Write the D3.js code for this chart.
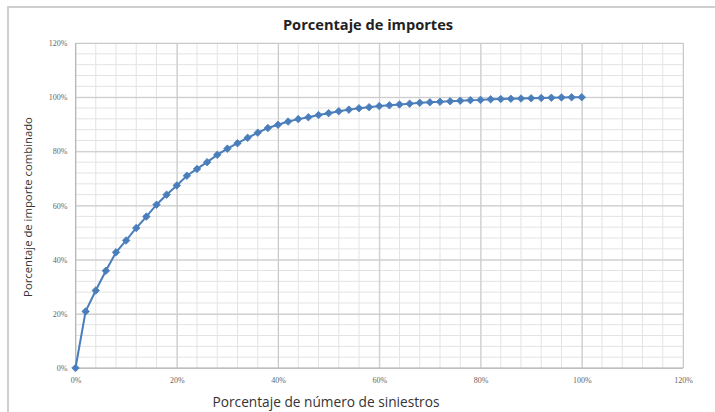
<!DOCTYPE html>
<html>
<head>
<meta charset="utf-8">
<script src="https://cdn.jsdelivr.net/npm/d3@7"></script>
<style>
  body { margin: 0; background: #fff; }
  svg { display: block; }
</style>
</head>
<body>
<svg id="chart" width="715" height="412"></svg>
<script>
// x values: share of claims count (%), y values: cumulative share of amounts (%)
const claimsPct = [0, 2, 4, 6, 8, 10, 12, 14, 16, 18, 20, 22, 24, 26, 28, 30, 32, 34, 36, 38, 40,
    42, 44, 46, 48, 50, 52, 54, 56, 58, 60, 62, 64, 66, 68, 70, 72, 74, 76, 78, 80,
    82, 84, 86, 88, 90, 92, 94, 96, 98, 100];
const amountPct = [0, 20.9, 28.6, 35.9, 42.7, 47.1, 51.7, 55.9, 60.3, 64.0, 67.4, 71.0, 73.5, 76.0, 78.7, 81.0, 83.0, 85.0, 86.9, 88.6, 89.8,
    91.0, 91.9, 92.6, 93.4, 94.1, 94.8, 95.4, 95.9, 96.3, 96.7, 97.0, 97.3, 97.6, 97.9, 98.1, 98.3, 98.5, 98.7, 98.9, 99.0,
    99.2, 99.3, 99.4, 99.5, 99.6, 99.7, 99.8, 99.9, 99.95, 100];
const majorTicks = [0, 20, 40, 60, 80, 100, 120];
const minorTicks = d3.range(0, 121, 4);

const svg = d3.select("#chart");
const marginLeft = 75.5, marginRight = 32, marginTop = 43, marginBottom = 44;
const width = 715, height = 412;

const x = d3.scaleLinear().domain([0, 120]).range([marginLeft, width - marginRight]);
const y = d3.scaleLinear().domain([0, 120]).range([height - marginBottom, marginTop]);

// chart border (runs off the right and bottom edges like the screenshot)
svg.append("rect")
    .attr("x", 8).attr("y", 7)
    .attr("width", 720).attr("height", 420)
    .attr("fill", "#fff")
    .attr("stroke", "#cfcfcf")
    .attr("stroke-width", 2);

// minor grid
svg.append("g")
    .selectAll("line.vminor")
    .data(minorTicks)
    .join("line")
    .attr("x1", d => x(d)).attr("x2", d => x(d))
    .attr("y1", y(0)).attr("y2", y(120))
    .attr("stroke", "#e3e3e3").attr("stroke-width", 1);

svg.append("g")
    .selectAll("line.hminor")
    .data(minorTicks)
    .join("line")
    .attr("x1", x(0)).attr("x2", x(120))
    .attr("y1", d => y(d)).attr("y2", d => y(d))
    .attr("stroke", "#e3e3e3").attr("stroke-width", 1);

// major grid
svg.append("g")
    .attr("transform", `translate(0,${height - marginBottom})`)
    .call(d3.axisBottom(x).tickValues(majorTicks).tickSize(-(height - marginBottom - marginTop)).tickFormat(d => d + "%"))
    .call(g => g.select(".domain").remove())
    .call(g => g.selectAll(".tick line").attr("stroke", "#c9c9c9"))
    .call(g => g.selectAll(".tick text")
        .attr("dy", "12px")
        .attr("fill", "#666")
        .style("font-family", "Liberation Serif")
        .style("font-size", "8px"));

svg.append("g")
    .attr("transform", `translate(${marginLeft},0)`)
    .call(d3.axisLeft(y).tickValues(majorTicks).tickSize(-(width - marginRight - marginLeft)).tickFormat(d => d + "%"))
    .call(g => g.select(".domain").remove())
    .call(g => g.selectAll(".tick line").attr("stroke", "#c9c9c9"))
    .call(g => g.selectAll(".tick text")
        .attr("x", -8)
        .attr("fill", "#666")
        .style("font-family", "Liberation Serif")
        .style("font-size", "8px"));

// axis lines
svg.append("line")
    .attr("x1", x(0)).attr("x2", x(0))
    .attr("y1", y(0)).attr("y2", y(120))
    .attr("stroke", "#b8b8b8");
svg.append("line")
    .attr("x1", x(0)).attr("x2", x(120))
    .attr("y1", y(0)).attr("y2", y(0))
    .attr("stroke", "#b8b8b8");

// title
svg.append("text")
    .attr("x", 368).attr("y", 30)
    .style("text-anchor", "middle")
    .style("font-family", "Open Sans")
    .style("font-weight", "bold")
    .style("font-size", "14.6px")
    .attr("fill", "#222")
    .text("Porcentaje de importes");

// axis titles
svg.append("text")
    .attr("x", 326).attr("y", 407)
    .style("text-anchor", "middle")
    .style("font-family", "Open Sans")
    .style("font-size", "13.7px")
    .attr("fill", "#333")
    .text("Porcentaje de número de siniestros");

svg.append("text")
    .attr("transform", `translate(32,207) rotate(-90)`)
    .style("text-anchor", "middle")
    .style("font-family", "Open Sans")
    .style("font-size", "11.3px")
    .attr("fill", "#333")
    .text("Porcentaje de importe combinado");

// series
const points = claimsPct.map((c, i) => ({c, a: amountPct[i]}));

svg.append("path")
    .datum(points)
    .attr("fill", "none")
    .attr("stroke", "#4a7ebb")
    .attr("stroke-width", 2)
    .attr("d", d3.line().x(d => x(d.c)).y(d => y(d.a)));

svg.selectAll("path.marker")
    .data(points)
    .join("path")
    .attr("class", "marker")
    .attr("d", d3.symbol(d3.symbolDiamond2).size(36))
    .attr("transform", d => `translate(${x(d.c)},${y(d.a)})`)
    .attr("fill", "#4a7ebb")
    .attr("stroke", "#4a7ebb")
    .attr("stroke-width", 0.8);
</script>
</body>
</html>
